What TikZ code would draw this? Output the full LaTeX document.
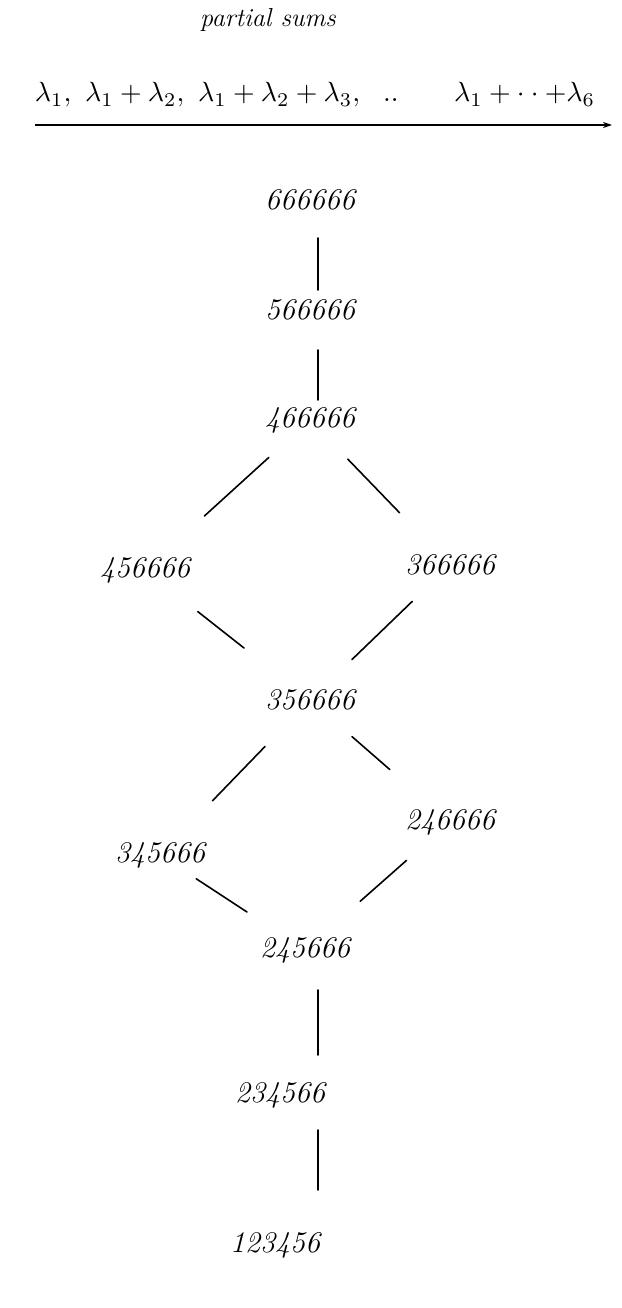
\documentclass[tikz,border=0pt]{standalone}
\usetikzlibrary{calc,arrows.meta}
\begin{document}
\begin{tikzpicture}[x=1pt,y=-1pt,
  lbl/.style={inner sep=0pt,font=\fontsize{30}{36}\selectfont\itshape},
  conn/.style={line width=1.6pt,line cap=round},
  vconn/.style={line width=1.6pt,line cap=round}]
\useasboundingbox (0,0) rectangle (621,1308);
\node[inner sep=0pt,font=\fontsize{26}{30}\selectfont\itshape] (title) at (268,20) {partial sums};
\node[inner sep=0pt] (formula) at (315,95) {\resizebox{560pt}{!}{$\lambda_1,\ \lambda_1+\lambda_2,\ \lambda_1+\lambda_2+\lambda_3,\ \ ..\qquad \lambda_1+\cdot\cdot+\lambda_6$}};
\coordinate (axL) at (35,125);
\coordinate (axR) at (612,125);
\draw[line width=1.3pt,-{Stealth[length=9pt,width=6pt]}] (axL) -- (axR);

\node[lbl] (a) at (310,200) {666666};
\node[lbl] (b) at (310,310) {566666};
\node[lbl] (c) at (310,420) {466666};
\node[lbl] (d) at (145,570) {456666};
\node[lbl] (e) at (450,565) {366666};
\node[lbl] (f) at (310,700) {356666};
\node[lbl] (g) at (160,855) {345666};
\node[lbl] (h) at (450,822) {246666};
\node[lbl] (i) at (305,950) {245666};
\node[lbl] (j) at (280,1095) {234566};
\node[lbl] (k) at (275,1245) {123456};

\draw[vconn] ([xshift=8pt]a.center) ++(0,38) -- ++(0,52);
\draw[vconn] ([xshift=8pt]b.center) ++(0,40) -- ++(0,50);
\draw[conn] ($(c.center)!0.25!(d.center)$) -- ($(c.center)!0.64!(d.center)$);
\draw[conn] ($(c.center)!0.27!(e.center)$) -- ($(c.center)!0.64!(e.center)$);
\draw[conn] ($(d.center)!0.32!(f.center)$) -- ($(d.center)!0.6!(f.center)$);
\draw[conn] ($(e.center)!0.27!(f.center)$) -- ($(e.center)!0.7!(f.center)$);
\draw[conn] ($(f.center)!0.3!(g.center)$) -- ($(f.center)!0.65!(g.center)$);
\draw[conn] ($(f.center)!0.3!(h.center)$) -- ($(f.center)!0.57!(h.center)$);
\draw[conn] ($(g.center)!0.25!(i.center)$) -- ($(g.center)!0.6!(i.center)$);
\draw[conn] ($(h.center)!0.3!(i.center)$) -- ($(h.center)!0.62!(i.center)$);
\draw[vconn] ([xshift=13pt]i.center) ++(0,40) -- ++(0,65);
\draw[vconn] ([xshift=38pt]j.center) ++(0,35) -- ++(0,60);
\end{tikzpicture}
\end{document}
